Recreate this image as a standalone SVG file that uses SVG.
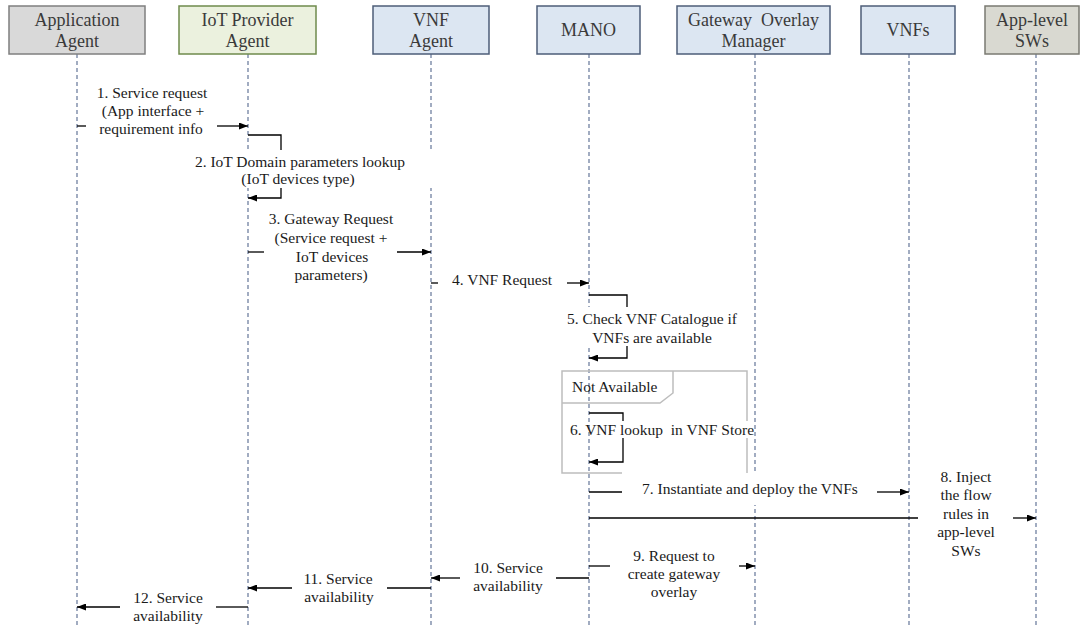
<svg xmlns="http://www.w3.org/2000/svg" width="1084" height="628" viewBox="0 0 1084 628">
  <style>
    .hdr { stroke-width: 1.5; }
    .hdr-gray { fill: #d9d9d9; stroke: #7f7f7f; }
    .hdr-green { fill: #ebf1de; stroke: #6f8a4c; }
    .hdr-blue { fill: #dce6f2; stroke: #4d5d78; }
    .hdr-olive { fill: #d9d9d1; stroke: #7a7a72; }
    .hdr-text { font-family: 'Liberation Serif', 'DejaVu Serif', serif; font-size: 18px; fill: #3a3a3a; text-anchor: middle; }
    .life { stroke: #7080a0; stroke-width: 1.3; stroke-dasharray: 4 3; fill: none; }
    .ln { stroke: #000; stroke-width: 1.3; fill: none; }
    .arr { marker-end: url(#head); }
    .msg { font-family: 'Liberation Serif', 'DejaVu Serif', serif; font-size: 15.5px; fill: #1a1a1a; text-anchor: middle; }
    .mask { fill: #fff; }
    .frame { fill: none; stroke: #bdbdbd; stroke-width: 1.5; }
  </style>
  <defs>
    <marker id="head" markerUnits="userSpaceOnUse" markerWidth="9" markerHeight="7" refX="9" refY="3.5" orient="auto">
      <path d="M0,0 L9,3.5 L0,7 z" fill="#000"/>
    </marker>
  </defs>

  <rect width="1084" height="628" fill="#fff"/>

  <g font-family="Liberation Serif, serif">
  <!-- participants: header box plus dashed lifeline -->
  <g id="application-agent">
    <line class="life" x1="77" y1="54" x2="77" y2="628"/>
    <rect class="hdr hdr-gray" x="9" y="6" width="136" height="48"/>
    <text class="hdr-text" x="77" y="26">Application</text>
    <text class="hdr-text" x="77" y="47">Agent</text>
  </g>
  <g id="iot-provider-agent">
    <line class="life" x1="248" y1="54" x2="248" y2="628"/>
    <rect class="hdr hdr-green" x="179" y="6" width="137" height="48"/>
    <text class="hdr-text" x="247.5" y="26">IoT Provider</text>
    <text class="hdr-text" x="247.5" y="47">Agent</text>
  </g>
  <g id="vnf-agent">
    <line class="life" x1="431" y1="54" x2="431" y2="628"/>
    <rect class="hdr hdr-blue" x="373" y="6" width="116" height="48"/>
    <text class="hdr-text" x="431" y="26">VNF</text>
    <text class="hdr-text" x="431" y="47">Agent</text>
  </g>
  <g id="mano">
    <line class="life" x1="589" y1="54" x2="589" y2="628"/>
    <rect class="hdr hdr-blue" x="537" y="6" width="103" height="48"/>
    <text class="hdr-text" x="588.5" y="36">MANO</text>
  </g>
  <g id="gateway-overlay-manager">
    <line class="life" x1="755" y1="54" x2="755" y2="628"/>
    <rect class="hdr hdr-blue" x="677" y="6" width="153" height="48"/>
    <text class="hdr-text" x="753.5" y="26" xml:space="preserve">Gateway  Overlay</text>
    <text class="hdr-text" x="753.5" y="47">Manager</text>
  </g>
  <g id="vnfs">
    <line class="life" x1="909" y1="54" x2="909" y2="628"/>
    <rect class="hdr hdr-blue" x="861" y="6" width="94" height="48"/>
    <text class="hdr-text" x="908" y="36">VNFs</text>
  </g>
  <g id="app-level-sws">
    <line class="life" x1="1036" y1="54" x2="1036" y2="628"/>
    <rect class="hdr hdr-olive" x="985" y="6" width="94" height="48"/>
    <text class="hdr-text" x="1032" y="26">App-level</text>
    <text class="hdr-text" x="1032" y="47">SWs</text>
  </g>

  <!-- combined fragment around the store lookup -->
  <g id="not-available-frame">
    <path class="frame" d="M622,473 L562,473 L562,371 L747,371 L747,473"/>
    <path class="frame" d="M562,403 L660,403 L673,393 L673,371"/>
    <text class="msg" x="572" y="392" style="text-anchor:start">Not Available</text>
  </g>

  <!-- messages -->
  <g id="connectors">
    <g id="m1">
      <line class="ln" x1="77" y1="126" x2="86" y2="126"/>
      <line class="ln arr" x1="217" y1="126" x2="248" y2="126"/>
      <text class="msg" x="152" y="98">1. Service request</text>
      <text class="msg" x="153" y="116">(App interface +</text>
      <text class="msg" x="151" y="134">requirement info</text>
    </g>
    <g id="m2">
      <polyline class="ln" points="248,135 281,135 281,150"/>
      <polyline class="ln arr" points="281,188 281,198 248,198"/>
      <rect class="mask" x="190" y="150" width="246" height="38"/>
      <text class="msg" x="300" y="167">2. IoT Domain parameters lookup</text>
      <text class="msg" x="298" y="184">(IoT devices type)</text>
    </g>
    <g id="m3">
      <line class="ln" x1="248" y1="252" x2="264" y2="252"/>
      <line class="ln arr" x1="397" y1="252" x2="431" y2="252"/>
      <text class="msg" x="331" y="224">3. Gateway Request</text>
      <text class="msg" x="331" y="243">(Service request +</text>
      <text class="msg" x="332" y="262">IoT devices</text>
      <text class="msg" x="331" y="280">parameters)</text>
    </g>
    <g id="m4">
      <line class="ln" x1="431" y1="283" x2="438" y2="283"/>
      <line class="ln arr" x1="567" y1="283" x2="589" y2="283"/>
      <text class="msg" x="502" y="285">4. VNF Request</text>
    </g>
    <g id="m5">
      <polyline class="ln" points="589,295 627,295 627,307"/>
      <polyline class="ln arr" points="627,346 627,358 589,358"/>
      <rect class="mask" x="565" y="307" width="176" height="39"/>
      <text class="msg" x="652" y="324">5. Check VNF Catalogue if</text>
      <text class="msg" x="652" y="343">VNFs are available</text>
    </g>
    <g id="m6">
      <polyline class="ln" points="589,413 623,413 623,421"/>
      <polyline class="ln arr" points="623,438 623,462 589,462"/>
      <rect class="mask" x="596" y="421" width="156" height="17"/>
      <text class="msg" x="662" y="435" xml:space="preserve">6. VNF lookup  in VNF Store</text>
    </g>
    <g id="m7">
      <rect class="mask" x="624" y="474" width="251" height="31"/>
      <line class="ln" x1="589" y1="492" x2="622" y2="492"/>
      <line class="ln arr" x1="877" y1="492" x2="909" y2="492"/>
      <text class="msg" x="750" y="494">7. Instantiate and deploy the VNFs</text>
    </g>
    <g id="m8">
      <line class="ln" x1="589" y1="518" x2="918" y2="518"/>
      <line class="ln arr" x1="1013" y1="518" x2="1036" y2="518"/>
      <text class="msg" x="966" y="482">8. Inject</text>
      <text class="msg" x="966" y="500">the flow</text>
      <text class="msg" x="966" y="519">rules in</text>
      <text class="msg" x="966" y="537">app-level</text>
      <text class="msg" x="966" y="556">SWs</text>
    </g>
    <g id="m9">
      <line class="ln" x1="589" y1="566" x2="610" y2="566"/>
      <line class="ln arr" x1="739" y1="566" x2="755" y2="566"/>
      <text class="msg" x="674" y="561">9. Request to</text>
      <text class="msg" x="674" y="579">create gateway</text>
      <text class="msg" x="674" y="597">overlay</text>
    </g>
    <g id="m10">
      <line class="ln" x1="589" y1="578" x2="556" y2="578"/>
      <line class="ln arr" x1="460" y1="578" x2="431" y2="578"/>
      <text class="msg" x="508" y="573">10. Service</text>
      <text class="msg" x="508" y="591">availability</text>
    </g>
    <g id="m11">
      <line class="ln" x1="431" y1="588" x2="387" y2="588"/>
      <line class="ln arr" x1="292" y1="588" x2="248" y2="588"/>
      <text class="msg" x="338" y="584">11. Service</text>
      <text class="msg" x="339" y="602">availability</text>
    </g>
    <g id="m12">
      <line class="ln" x1="248" y1="607" x2="216" y2="607"/>
      <line class="ln arr" x1="120" y1="607" x2="77" y2="607"/>
      <text class="msg" x="168" y="603">12. Service</text>
      <text class="msg" x="168" y="621">availability</text>
    </g>
  </g>
  </g>
</svg>
